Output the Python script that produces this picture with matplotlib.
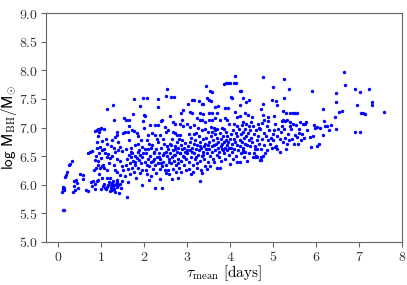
import numpy as np
import matplotlib
matplotlib.use("Agg")
from matplotlib import pyplot as plt
from matplotlib.ticker import FormatStrFormatter, MultipleLocator

plt.rcParams['mathtext.fontset'] = 'cm'

# (tau_mean [days], log M_BH/M_sun), grouped by tau range
pts_a = [(0.11, 5.55), (0.13, 5.56), (0.10, 5.88), (0.12, 5.92), (0.14, 5.95), (0.11, 5.96),
         (0.13, 5.90), (0.19, 6.17), (0.21, 6.22), (0.17, 6.14), (0.28, 6.37), (0.32, 6.41),
         (0.26, 6.35), (0.36, 5.97), (0.40, 5.91), (0.47, 5.94), (0.38, 6.07), (0.41, 6.08),
         (0.35, 5.87), (0.44, 6.03)]
pts_b = [(0.51, 6.18), (0.59, 6.17), (0.57, 6.10), (0.64, 5.91), (0.70, 5.89), (0.74, 6.58),
         (0.78, 6.59), (0.70, 6.56), (0.77, 6.05), (0.82, 6.07), (0.80, 5.97), (0.86, 6.01),
         (0.90, 6.07), (0.94, 6.08), (0.85, 5.93), (0.87, 6.94), (0.90, 6.95), (0.93, 6.97),
         (0.95, 6.92), (0.97, 6.98), (0.99, 6.99), (0.90, 6.74), (0.90, 6.64), (0.98, 6.66),
         (0.86, 6.43), (0.94, 6.41), (0.92, 6.34), (0.98, 6.29), (0.88, 6.50), (0.95, 6.55),
         (0.84, 6.25), (0.96, 6.18), (0.92, 6.85), (0.88, 6.30), (0.99, 6.47)]
pts_c = [(1.03, 6.11), (1.09, 5.94), (1.13, 6.11), (1.21, 6.11), (1.25, 6.03), (1.31, 6.00),
         (1.34, 6.01), (1.17, 6.00), (1.05, 5.97), (1.08, 6.02), (1.12, 5.92), (1.15, 5.96),
         (1.19, 6.05), (1.22, 5.95), (1.24, 5.99), (1.27, 5.97), (1.28, 6.06), (1.30, 5.93),
         (1.33, 5.88), (1.36, 5.96), (1.38, 6.04), (1.40, 5.99), (1.42, 5.86), (1.44, 6.02),
         (1.46, 5.94), (1.48, 6.06), (1.20, 5.89), (1.01, 5.92), (1.37, 6.09), (1.26, 5.91),
         (1.02, 6.61), (1.08, 6.62), (1.02, 6.33), (1.05, 6.35), (1.08, 6.30), (1.13, 6.49),
         (1.17, 6.53), (1.21, 6.46), (1.33, 6.58), (1.29, 6.64), (1.40, 6.61), (1.48, 6.59),
         (1.44, 6.66), (1.29, 6.34), (1.33, 6.26), (1.36, 6.22), (1.44, 6.17), (1.48, 6.32),
         (1.02, 6.77), (1.11, 6.80), (1.25, 6.78), (1.33, 6.84), (1.36, 6.87), (1.08, 6.97),
         (1.22, 6.68), (1.15, 6.72), (1.40, 6.75), (1.45, 6.42), (1.18, 6.38), (1.10, 6.55),
         (1.26, 6.50), (1.38, 6.45), (1.15, 6.25), (1.15, 7.32), (1.27, 7.40), (1.31, 7.13),
         (1.50, 6.91), (1.36, 6.92)]
pts_d = [(1.54, 7.17), (1.58, 7.13), (1.64, 7.13), (1.65, 7.03), (1.73, 6.96), (1.77, 6.94),
         (1.74, 7.24), (1.77, 7.50), (1.90, 7.38), (1.55, 6.92), (1.62, 6.92), (1.87, 6.85),
         (1.87, 6.72), (1.60, 5.79), (1.52, 6.26), (1.57, 6.34), (1.56, 6.15), (1.60, 6.45),
         (1.62, 6.28), (1.63, 6.05), (1.65, 6.52), (1.67, 6.38), (1.68, 6.18), (1.70, 6.48),
         (1.72, 6.30), (1.73, 6.55), (1.75, 6.42), (1.76, 6.22), (1.78, 6.50), (1.80, 6.35),
         (1.81, 6.12), (1.83, 6.47), (1.85, 6.58), (1.86, 6.30), (1.88, 6.44), (1.90, 6.20),
         (1.91, 6.52), (1.93, 6.38), (1.95, 6.48), (1.96, 6.26), (1.98, 6.55), (1.95, 5.99),
         (1.58, 6.62), (1.70, 6.65), (1.80, 6.70), (1.92, 6.78), (1.66, 6.78), (1.84, 6.90),
         (1.96, 6.66), (1.69, 6.58), (1.78, 6.40), (1.89, 6.60)]
pts_e = [(1.98, 7.51), (2.08, 7.51), (2.33, 7.50), (2.33, 7.36), (2.00, 7.22), (2.02, 7.21),
         (1.97, 7.11), (2.39, 7.12), (2.42, 7.13), (2.14, 7.04), (2.26, 7.04), (2.33, 7.04),
         (2.00, 7.00), (2.49, 7.01), (2.10, 6.87), (2.18, 6.90), (2.26, 6.87), (2.36, 6.87),
         (2.12, 6.08), (2.26, 5.94), (2.41, 5.95), (2.37, 6.10), (2.02, 6.40), (2.04, 6.25),
         (2.05, 6.55), (2.07, 6.18), (2.09, 6.45), (2.10, 6.62), (2.12, 6.33), (2.14, 6.50),
         (2.15, 6.15), (2.17, 6.40), (2.19, 6.70), (2.20, 6.28), (2.22, 6.55), (2.23, 6.45),
         (2.25, 6.35), (2.27, 6.62), (2.28, 6.20), (2.30, 6.48), (2.32, 6.75), (2.33, 6.38),
         (2.35, 6.55), (2.37, 6.27), (2.38, 6.45), (2.40, 6.65), (2.42, 6.33), (2.43, 6.52),
         (2.45, 6.40), (2.47, 6.72), (2.48, 6.25), (2.50, 6.58), (2.08, 6.78), (2.16, 6.65),
         (2.29, 6.80), (2.44, 6.80), (2.06, 6.35), (2.24, 6.58), (2.34, 6.48), (2.12, 6.72),
         (2.21, 6.42), (2.39, 6.38), (2.46, 6.55), (2.03, 6.62)]
pts_f = [(2.54, 7.67), (2.50, 7.55), (2.62, 7.54), (2.69, 7.53), (2.68, 7.10), (2.72, 7.07),
         (2.55, 6.96), (2.51, 6.93), (2.84, 7.06), (2.89, 7.13), (2.86, 7.25), (2.91, 7.31),
         (2.67, 6.93), (2.72, 6.90), (2.77, 6.87), (2.84, 6.87), (2.91, 7.03), (2.99, 7.07),
         (2.60, 7.20), (2.80, 6.11), (2.50, 6.20), (2.52, 6.35), (2.53, 6.50), (2.55, 6.62),
         (2.56, 6.25), (2.58, 6.45), (2.60, 6.72), (2.61, 6.55), (2.62, 6.38), (2.64, 6.80),
         (2.65, 6.48), (2.67, 6.28), (2.68, 6.60), (2.70, 6.42), (2.71, 6.68), (2.73, 6.52),
         (2.74, 6.35), (2.76, 6.75), (2.77, 6.58), (2.79, 6.45), (2.80, 6.65), (2.82, 6.30),
         (2.83, 6.55), (2.85, 6.70), (2.86, 6.42), (2.88, 6.62), (2.89, 6.78), (2.90, 6.50),
         (2.92, 6.35), (2.93, 6.65), (2.95, 6.58), (2.96, 6.73), (2.98, 6.45), (2.99, 6.60),
         (2.57, 6.18), (2.66, 6.10), (2.75, 6.22), (2.87, 6.22), (2.97, 6.25), (2.63, 6.70),
         (2.81, 6.80), (2.59, 6.40), (2.69, 6.52), (2.78, 6.38), (2.94, 6.48), (2.54, 6.68),
         (2.72, 6.62), (2.84, 6.55)]
pts_g = [(3.02, 7.41), (3.11, 7.49), (3.16, 7.49), (3.27, 7.46), (3.34, 7.41), (3.38, 7.41),
         (3.44, 7.72), (3.46, 7.51), (3.07, 7.27), (3.11, 7.25), (3.29, 7.26), (3.38, 7.24),
         (3.22, 7.16), (3.30, 7.13), (3.34, 7.14), (3.07, 7.01), (3.15, 7.04), (3.26, 6.99),
         (3.34, 6.96), (3.42, 6.97), (3.42, 7.10), (3.04, 6.88), (3.20, 6.90), (3.48, 6.92),
         (3.30, 6.07), (3.46, 6.27), (3.01, 6.55), (3.03, 6.68), (3.04, 6.40), (3.06, 6.75),
         (3.07, 6.60), (3.09, 6.48), (3.10, 6.82), (3.12, 6.65), (3.13, 6.35), (3.15, 6.72),
         (3.16, 6.55), (3.18, 6.45), (3.19, 6.78), (3.21, 6.62), (3.22, 6.38), (3.24, 6.70),
         (3.25, 6.52), (3.27, 6.85), (3.28, 6.60), (3.30, 6.42), (3.31, 6.75), (3.33, 6.65),
         (3.34, 6.50), (3.36, 6.80), (3.37, 6.58), (3.39, 6.68), (3.40, 6.45), (3.42, 6.72),
         (3.43, 6.62), (3.45, 6.82), (3.46, 6.55), (3.48, 6.70), (3.49, 6.40), (3.05, 6.28),
         (3.14, 6.22), (3.23, 6.30), (3.32, 6.25), (3.41, 6.32), (3.08, 6.18), (3.35, 6.20),
         (3.11, 6.58), (3.20, 6.48), (3.29, 6.68), (3.38, 6.52), (3.47, 6.62), (3.17, 6.88)]
pts_h = [(3.50, 7.48), (3.53, 7.63), (3.57, 7.62), (3.56, 7.47), (3.66, 7.36), (3.71, 7.38),
         (3.86, 7.76), (3.91, 7.77), (3.96, 7.78), (3.51, 7.26), (3.57, 7.25), (3.69, 7.25),
         (3.50, 7.13), (3.57, 7.14), (3.65, 7.16), (3.77, 7.14), (3.55, 7.01), (3.63, 7.00),
         (3.70, 6.98), (3.81, 7.00), (3.88, 7.35), (3.95, 7.34), (3.88, 7.16), (3.92, 7.13),
         (3.98, 7.07), (3.53, 6.33), (3.69, 6.30), (3.77, 6.30), (3.98, 6.52), (3.92, 6.61),
         (3.51, 6.62), (3.52, 6.75), (3.54, 6.50), (3.55, 6.85), (3.57, 6.68), (3.58, 6.58),
         (3.60, 6.78), (3.61, 6.45), (3.63, 6.70), (3.64, 6.88), (3.66, 6.60), (3.67, 6.72),
         (3.69, 6.52), (3.70, 6.82), (3.72, 6.65), (3.73, 6.75), (3.75, 6.58), (3.76, 6.90),
         (3.78, 6.68), (3.79, 6.80), (3.81, 6.62), (3.82, 6.72), (3.84, 6.85), (3.85, 6.55),
         (3.87, 6.75), (3.88, 6.65), (3.90, 6.92), (3.91, 6.78), (3.93, 6.70), (3.94, 6.85),
         (3.96, 6.75), (3.99, 6.80), (3.62, 6.40), (3.80, 6.42), (3.89, 6.45), (3.66, 6.95),
         (3.85, 6.97), (3.59, 6.92), (3.74, 6.48), (3.83, 6.60), (3.97, 6.65)]
pts_i = [(4.00, 7.78), (4.08, 7.78), (4.13, 7.77), (4.12, 7.90), (4.22, 7.64), (4.25, 7.64),
         (4.02, 7.54), (4.05, 7.51), (4.30, 7.52), (4.43, 7.48), (4.37, 7.45), (4.23, 7.39),
         (4.12, 7.28), (4.35, 7.25), (4.41, 7.22), (4.16, 7.19), (4.23, 7.20), (4.50, 7.19),
         (4.49, 7.10), (4.08, 7.07), (4.31, 7.10), (4.37, 7.07), (4.00, 6.36), (4.17, 6.39),
         (4.22, 6.39), (4.39, 6.41), (4.04, 6.57), (4.31, 6.61), (4.35, 6.58), (4.29, 6.57),
         (4.01, 6.65), (4.02, 6.88), (4.04, 6.72), (4.07, 6.95), (4.08, 6.80), (4.10, 6.62),
         (4.11, 6.75), (4.13, 6.90), (4.14, 6.50), (4.16, 6.70), (4.17, 6.85), (4.19, 6.60),
         (4.20, 6.98), (4.22, 6.78), (4.23, 6.68), (4.25, 6.88), (4.26, 6.55), (4.28, 6.75),
         (4.29, 6.92), (4.31, 6.65), (4.32, 6.82), (4.34, 6.72), (4.35, 6.98), (4.38, 6.85),
         (4.40, 6.70), (4.41, 6.90), (4.43, 6.78), (4.44, 6.55), (4.46, 6.95), (4.47, 6.68),
         (4.49, 6.82), (4.15, 7.02), (4.27, 7.05), (4.45, 7.03), (4.06, 6.45), (4.33, 6.48)]
pts_j = [(4.76, 7.88), (4.99, 7.70), (4.77, 7.41), (4.71, 7.32), (4.97, 7.49), (4.77, 7.22),
         (4.89, 7.19), (4.66, 7.07), (4.74, 7.08), (4.80, 7.13), (4.89, 7.11), (4.55, 6.55),
         (4.57, 6.48), (4.63, 6.49), (4.70, 6.43), (4.73, 6.49), (4.77, 6.50), (4.72, 6.43),
         (4.62, 6.62), (4.54, 6.49), (4.60, 6.50), (4.52, 6.75), (4.55, 6.88), (4.58, 6.68),
         (4.60, 6.95), (4.62, 6.78), (4.65, 6.85), (4.68, 6.72), (4.70, 6.98), (4.72, 6.62),
         (4.75, 6.80), (4.78, 6.90), (4.80, 6.70), (4.83, 6.85), (4.85, 6.60), (4.88, 6.78),
         (4.90, 6.95), (4.92, 6.72), (4.95, 6.82), (4.97, 6.65), (4.99, 6.88), (4.53, 7.02),
         (4.68, 7.00), (4.86, 7.03), (4.57, 6.62), (4.82, 6.55)]
pts_k = [(5.26, 7.84), (5.06, 7.46), (5.10, 7.39), (5.25, 7.51), (5.37, 7.68), (5.03, 7.21),
         (5.05, 7.07), (5.22, 7.29), (5.30, 7.25), (5.40, 7.26), (5.47, 7.25), (5.22, 7.14),
         (5.28, 7.12), (5.40, 7.10), (5.47, 7.07), (5.20, 7.12), (5.33, 7.13), (5.05, 6.66),
         (5.10, 6.62), (5.00, 6.78), (5.07, 6.68), (5.02, 6.95), (5.08, 6.85), (5.12, 6.98),
         (5.15, 6.80), (5.18, 6.92), (5.22, 6.75), (5.25, 6.98), (5.28, 6.82), (5.32, 6.72),
         (5.35, 6.88), (5.38, 6.78), (5.42, 6.98), (5.45, 6.80), (5.48, 6.71), (5.15, 6.58),
         (5.30, 6.62), (5.20, 7.02), (5.40, 7.03)]
pts_l = [(5.51, 7.25), (5.55, 7.25), (5.53, 7.04), (5.63, 7.10), (5.74, 7.07), (5.70, 7.07),
         (5.77, 7.10), (5.60, 6.98), (5.61, 6.90), (5.51, 6.87), (5.55, 6.84), (5.85, 6.83),
         (5.93, 6.85), (5.87, 6.66), (5.91, 7.64), (5.94, 7.04), (5.98, 6.99), (5.65, 6.78),
         (5.72, 6.82), (5.80, 6.95), (5.58, 6.72), (5.68, 6.88)]
pts_m = [(6.02, 7.01), (6.03, 6.68), (6.07, 6.71), (6.09, 6.99), (6.15, 7.33), (6.18, 7.11),
         (6.21, 7.02), (6.26, 7.02), (6.15, 6.87), (6.47, 7.61), (6.47, 7.45), (6.54, 7.27),
         (6.61, 7.29), (6.43, 7.19), (6.46, 6.97), (6.30, 6.95), (6.35, 7.05)]
pts_n = [(6.66, 7.97), (6.67, 7.75), (6.91, 7.68), (7.03, 7.62), (7.24, 7.67), (7.29, 7.45),
         (7.31, 7.39), (7.58, 7.27), (6.95, 7.39), (7.05, 7.25), (7.10, 7.26), (7.13, 7.24),
         (6.91, 6.92), (7.03, 6.92)]

groups = [pts_a, pts_b, pts_c, pts_d, pts_e, pts_f, pts_g, pts_h,
          pts_i, pts_j, pts_k, pts_l, pts_m, pts_n]
tau_mean = np.array([p[0] for g in groups for p in g])
log_mbh = np.array([p[1] for g in groups for p in g])

fig = plt.figure(figsize=(4.07, 2.85), dpi=100)
ax = fig.add_axes([0.113, 0.151, 0.875, 0.803])
ax.scatter(tau_mean, log_mbh, s=6, c='blue', linewidths=0)

ax.set_xlim(-0.28, 8)
ax.set_ylim(5, 9)
ax.xaxis.set_major_locator(MultipleLocator(1))
ax.yaxis.set_major_locator(MultipleLocator(0.5))
ax.xaxis.set_major_formatter(FormatStrFormatter(r'$%d$'))
ax.yaxis.set_major_formatter(FormatStrFormatter(r'$%.1f$'))

for sp in ax.spines.values():
    sp.set_color('0.4')
ax.tick_params(colors='0.4', labelcolor='0.2', labelsize=10, length=3.5, pad=2.5)

ax.set_xlabel(r'$\tau_{\rm mean}\ [\rm days]$', fontsize=11)
ax.set_ylabel(r'$\mathsf{log\ M_{\rm BH}/M_{\odot}}$', fontsize=11)
ax.xaxis.set_label_coords(0.5, -0.095)
ax.yaxis.set_label_coords(-0.075, 0.5)

fig.savefig('out.png', dpi=100)
